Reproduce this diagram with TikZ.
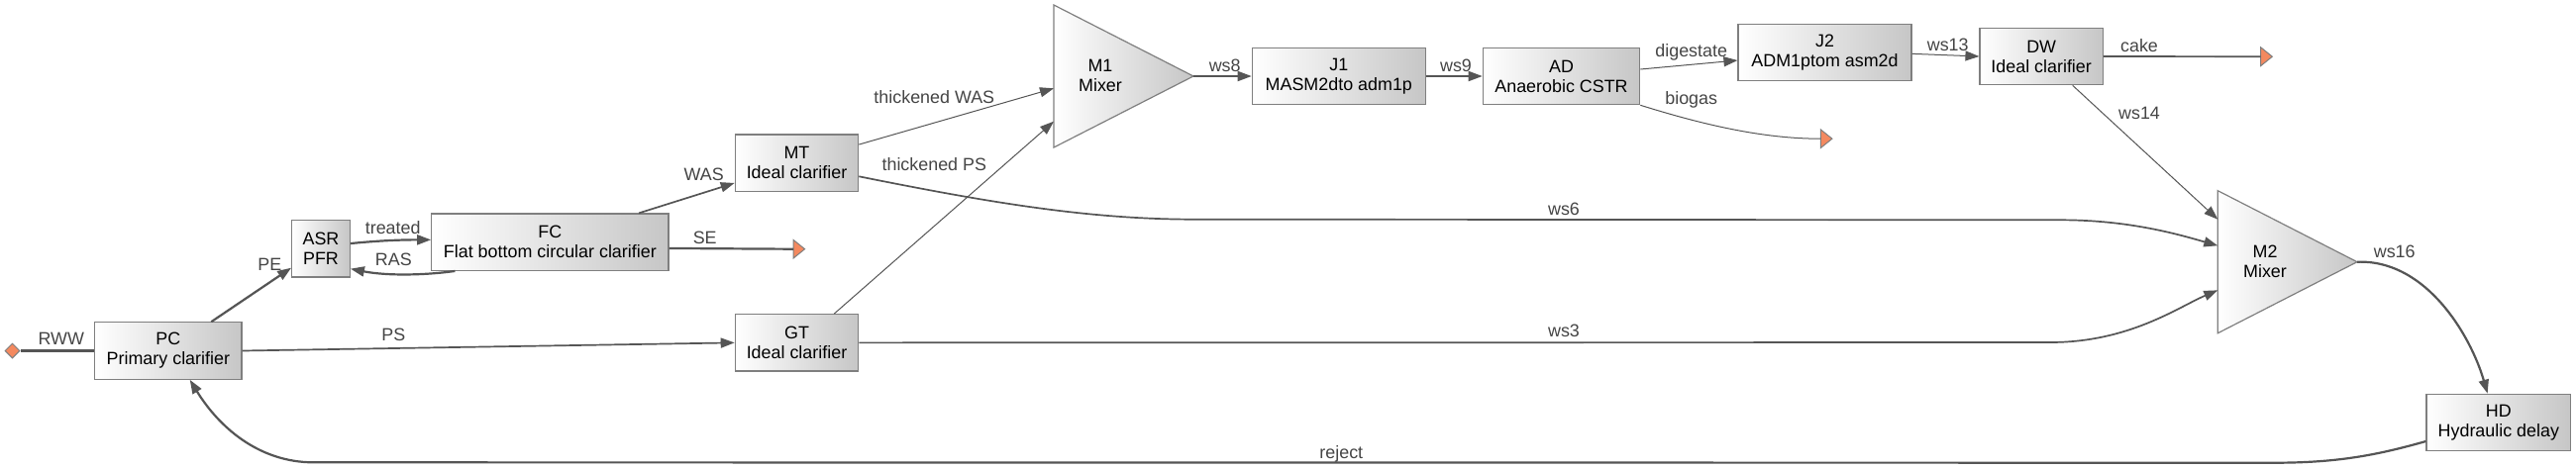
\documentclass[tikz,border=0pt]{standalone}
\usepackage{fontspec}
\setmainfont{Liberation Sans}
\usetikzlibrary{arrows.meta,calc,shapes.geometric}
\definecolor{ln}{HTML}{555555}
\definecolor{lblc}{HTML}{454545}
\definecolor{bd}{HTML}{7F7F7F}
\definecolor{shd}{HTML}{C6C6C6}
\definecolor{org}{HTML}{F4895F}
\begin{document}
\begin{tikzpicture}[x=0.5pt,y=-0.5pt,
  font=\fontsize{8.95pt}{10pt}\selectfont,
  box/.style={draw=bd, line width=0.6pt, left color=white, right color=shd, minimum height=28.7pt, inner sep=0pt, align=center, text=black},
  lab/.style={text=lblc, inner sep=0pt, text height=6.4pt, text depth=0pt},
  flowA/.style={draw=ln, line width=1.1pt},
  flowB/.style={draw=ln, line width=0.85pt},
  flowC/.style={draw=ln, line width=0.5pt},
  arr/.style={-{Triangle[length=7pt,width=5pt]}},
  sinkst/.style={draw=bd, line width=0.5pt, fill=org},
  mixer/.style={draw=bd, line width=0.6pt, left color=white, right color=shd}]
\useasboundingbox (0,0) rectangle (2601,473);
\fill[white] (0,0) rectangle (2601,473);

% boxes
\node[box, minimum width=74.15pt] (PC) at (169.85,354.5) {PC\\Primary clarifier};
\node[box, minimum width=29.3pt] (ASR) at (324,251.35) {ASR\\PFR};
\node[box, minimum width=119.65pt] (FC) at (555.35,244.65) {FC\\Flat bottom circular clarifier};
\node[box, minimum width=62.2pt] (MT) at (804.5,164.65) {MT\\Ideal clarifier};
\node[box, minimum width=62.2pt] (GT) at (804.5,346.35) {GT\\Ideal clarifier};
\node[box, minimum width=87.5pt] (J1) at (1351.8,77) {J1\\MASM2dto adm1p};
\node[box, minimum width=79.2pt] (AD) at (1576.5,77) {AD\\Anaerobic CSTR};
\node[box, minimum width=87.5pt] (J2) at (1842.5,52.85) {J2\\ADM1ptom asm2d};
\node[box, minimum width=62.15pt] (DW) at (2061.15,57) {DW\\Ideal clarifier};
\node[box, minimum width=72.85pt] (HD) at (2522.85,427) {HD\\Hydraulic delay};

% mixers
\path[mixer] (1064,5) -- (1205,77) -- (1064,149) -- cycle;
\node[inner sep=0pt, align=center] (M1) at (1111,76) {M1\\Mixer};
\coordinate (M1out) at (1205,77);
\coordinate (M1inA) at (1064,89.3);
\coordinate (M1inB) at (1064,122.7);
\path[mixer] (2239.3,192.7) -- (2380,264.7) -- (2239.3,336.7) -- cycle;
\node[inner sep=0pt, align=center] (M2) at (2287,264) {M2\\Mixer};
\coordinate (M2out) at (2380,264.7);
\coordinate (M2inA) at (2239.3,221.7);
\coordinate (M2inB) at (2239.3,248.3);
\coordinate (M2inC) at (2239.3,293.3);

% source and sinks
\node[diamond, draw=bd, fill=org, line width=0.5pt, minimum width=7.5pt, minimum height=7.5pt, inner sep=0pt] (src) at (12.5,354.5) {};
\coordinate (seS) at (801,251.7);
\coordinate (bgS) at (1838.3,140.2);
\coordinate (cakeS) at (2282.7,57.2);
\path[sinkst] (seS) -- ++(0,-9.35) -- ++(11.6,9.35) -- ++(-11.6,9.35) -- cycle;
\path[sinkst] (bgS) -- ++(0,-9.35) -- ++(11.6,9.35) -- ++(-11.6,9.35) -- cycle;
\path[sinkst] (cakeS) -- ++(0,-9.35) -- ++(11.6,9.35) -- ++(-11.6,9.35) -- cycle;

% connectors
\draw[flowA] (src.east) -- (PC.west);
\draw[flowA,arr] ($(PC.north)+(43.5,0)$) -- ($(ASR.west)+(0,19.3)$);
\draw[flowA,arr] ($(ASR.east)+(0,-5.3)$) .. controls +(30,-3) and +(-30,0) .. ($(FC.west)+(0,-2.3)$);
\draw[flowA,arr] ($(FC.south west)+(24.3,0)$) .. controls +(-30,4.2) and +(36.7,7.3) .. ($(ASR.east)+(0,20.3)$);
\draw[flowA] ($(FC.east)+(0,6.3)$) -- (seS);
\draw[flowB,arr] ($(FC.north west)+(210,0)$) -- ($(MT.west)+(0,20.3)$);
\draw[flowB,arr] (PC.east) -- (GT.west);
\draw[flowC,arr] ($(MT.north east)+(0,10.7)$) -- (M1inA);
\draw[flowC,arr] ($(GT.north)+(37.8,0)$) -- (M1inB);
\draw[flowB,arr] (M1out) -- (J1.west);
\draw[flowB,arr] (J1.east) -- (AD.west);
\draw[flowC,arr] ($(AD.east)+(0,-7)$) -- ($(J2.west)+(0,8.15)$);
\draw[flowC] (AD.south east) .. controls +(64,20) and +(-58,0) .. (bgS);
\draw[flowC,arr] ($(J2.east)+(0,1.5)$) -- (DW.west);
\draw[flowB] (DW.east) -- (cakeS);
\draw[flowC,arr] ($(DW.south west)+(94.3,0)$) -- (M2inA);
\draw[flowB,arr] ($(MT.east)+(0,13.65)$) .. controls (1000,205) and (1100,221.7) .. (1206.7,221.7) -- (2080,222.3) .. controls (2150,222.3) and (2200,237) .. (M2inB);
\draw[flowB,arr] (GT.east) -- (2070,346) .. controls (2150,346) and (2200,310) .. (M2inC);
\draw[flowA,arr] (M2out) .. controls (2450,262) and (2495,340) .. ($(HD.north)+(-11.2,0)$);
\draw[flowA,arr] ($(HD.west)+(0,19)$) .. controls (2400,460) and (2360,467.7) .. (2296.7,467.7) -- (316.7,467.3) .. controls (260,467.3) and (220,430) .. ($(PC.south)+(21.85,0)$);

% labels
\node[lab] (lRWW) at (61.7,342.3) {RWW};
\node[lab] (lPE) at (272.3,266.7) {PE};
\node[lab] (lTreated) at (396.7,230) {treated};
\node[lab] (lRAS) at (397.3,261.7) {RAS};
\node[lab] (lPS) at (397.3,338.3) {PS};
\node[lab] (lSE) at (711.7,240) {SE};
\node[lab] (lWAS) at (710.7,176) {WAS};
\node[lab] (lTWAS) at (943.3,97.7) {thickened WAS};
\node[lab] (lTPS) at (943.3,165.7) {thickened PS};
\node[lab] (lws8) at (1236.7,65.7) {ws8};
\node[lab] (lws9) at (1470,65.7) {ws9};
\node[lab] (lDig) at (1707.7,50.7) {digestate};
\node[lab] (lBio) at (1707.7,99) {biogas};
\node[lab] (lws13) at (1966.7,45) {ws13};
\node[lab] (lCake) at (2160,45.7) {cake};
\node[lab] (lws14) at (2160,114.3) {ws14};
\node[lab] (lws6) at (1579,210.7) {ws6};
\node[lab] (lws3) at (1579,334.3) {ws3};
\node[lab] (lws16) at (2417.7,254) {ws16};
\node[lab] (lRej) at (1354.3,457.3) {reject};
\end{tikzpicture}
\end{document}
